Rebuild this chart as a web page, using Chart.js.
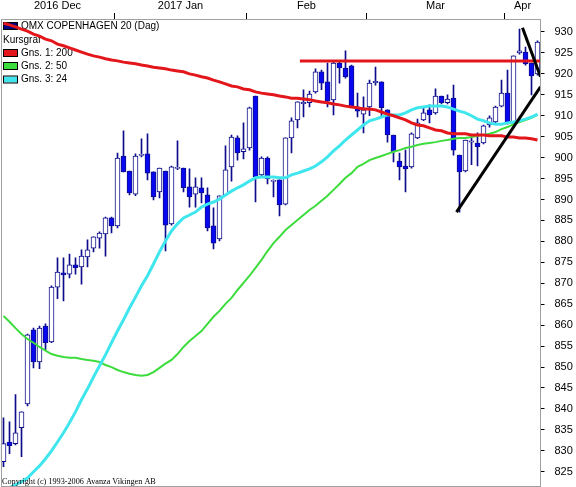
<!DOCTYPE html>
<html lang="sv">
<head>
<meta charset="UTF-8">
<title>OMX Copenhagen 20 (Dag)</title>
<script src="https://cdn.jsdelivr.net/npm/chart.js"></script>
<style>
  html, body { margin: 0; padding: 0; background: #fff; }
  canvas { display: block; }
</style>
</head>
<body>
<canvas id="kurs" width="576" height="487"></canvas>
<script>
// months shown on the top axis and how many trading days each has in view
const months = ['2016 Dec', '2017 Jan', 'Feb', 'Mar', 'Apr'];
const monthDays = [19, 22, 20, 23, 6];

// daily candles
const opens = [827.4, 832.1, 831.7, 835.5, 841.2, 858.9, 851.2, 859.8, 856.0, 869.1,
  872.5, 872.2, 874.4, 873.9, 876.3, 878.4, 880.8, 881.8, 885.6, 883.7,
  900.4, 896.8, 891.3, 900.5, 900.9, 896.6, 891.8, 896.8, 884.2, 897.4,
  897.5, 893.0, 891.3, 892.8, 891.1, 883.7, 880.6, 891.1, 897.8, 904.7,
  901.4, 902.3, 914.7, 895.9, 899.9, 894.3, 894.7, 888.9, 904.7, 909.0,
  912.9, 913.1, 915.7, 920.5, 918.1, 913.8, 922.6, 921.4, 921.9, 912.1,
  910.4, 912.1, 917.9, 918.1, 911.4, 905.4, 899.2, 898.0, 897.8, 904.7,
  909.0, 911.4, 910.7, 914.7, 913.1, 914.2, 900.6, 896.8, 903.7, 903.5,
  903.5, 907.8, 908.5, 912.3, 915.4, 908.3, 925.0, 925.2, 922.6, 920.0];
const highs = [837.9, 836.9, 843.4, 839.3, 857.9, 859.3, 859.8, 860.3, 869.4, 876.1,
  876.1, 877.0, 876.1, 878.0, 880.4, 881.1, 882.3, 885.8, 885.8, 901.1,
  906.4, 896.8, 900.9, 904.5, 905.7, 896.6, 897.5, 896.8, 898.0, 904.0,
  897.5, 897.3, 895.2, 895.2, 892.8, 888.0, 890.9, 902.8, 905.4, 905.2,
  908.3, 912.1, 914.7, 900.2, 900.2, 894.7, 894.7, 904.7, 909.5, 913.3,
  916.2, 915.9, 921.2, 920.9, 922.6, 922.8, 922.8, 925.5, 922.1, 915.4,
  914.5, 918.5, 921.6, 918.1, 911.4, 905.4, 901.1, 901.8, 905.9, 909.2,
  911.9, 912.6, 916.4, 914.7, 915.0, 917.3, 900.6, 904.2, 904.7, 905.9,
  907.8, 910.0, 912.3, 918.5, 920.9, 924.3, 930.7, 926.4, 922.6, 927.9];
const lows = [826.2, 829.3, 831.4, 828.6, 840.7, 849.8, 849.6, 854.1, 855.8, 866.3,
  865.8, 871.3, 872.2, 869.8, 873.9, 877.5, 878.4, 876.5, 882.0, 883.2,
  896.6, 891.1, 890.9, 900.2, 894.7, 889.9, 890.4, 877.7, 883.9, 897.1,
  891.8, 888.2, 888.2, 889.2, 882.5, 878.2, 880.1, 890.9, 894.4, 899.4,
  899.7, 901.8, 889.4, 895.6, 893.7, 890.6, 886.1, 888.7, 901.1, 907.1,
  909.7, 912.1, 915.4, 916.2, 912.1, 910.2, 917.8, 919.0, 911.9, 909.7,
  905.9, 910.0, 917.3, 909.7, 903.7, 899.0, 894.7, 891.8, 897.5, 904.5,
  908.8, 908.3, 910.4, 912.8, 912.8, 900.6, 887.0, 896.6, 898.3, 898.0,
  903.3, 907.3, 908.3, 912.1, 908.0, 908.0, 924.7, 922.1, 915.0, 919.7];
const closes = [831.7, 831.2, 834.3, 839.3, 857.7, 851.2, 859.3, 855.8, 869.1, 872.7,
  872.0, 874.4, 873.7, 876.5, 878.0, 881.1, 882.0, 885.6, 883.7, 899.9,
  896.6, 891.6, 900.4, 900.8, 896.3, 890.6, 897.5, 883.9, 897.8, 897.7,
  892.8, 890.6, 893.0, 891.6, 883.2, 879.6, 890.9, 897.1, 904.9, 901.1,
  902.1, 911.9, 895.4, 899.9, 894.9, 894.6, 888.7, 904.7, 908.8, 913.3,
  913.2, 915.2, 920.5, 917.8, 913.5, 922.6, 921.4, 919.3, 912.1, 911.1,
  911.4, 917.8, 918.2, 911.9, 905.4, 901.4, 897.8, 897.3, 905.7, 908.3,
  910.7, 910.2, 914.7, 913.1, 914.0, 901.8, 896.6, 904.2, 904.0, 902.6,
  907.6, 909.5, 912.1, 915.4, 908.3, 924.3, 925.5, 922.4, 919.5, 927.6];

// moving averages (Gns. 1: 200, Gns. 2: 50, Gns. 3: 24)
const ma200 = [932.1, 931.7, 931.2, 930.7, 930.2, 929.5, 929.0, 928.3, 927.9, 927.1,
  926.7, 926.2, 925.7, 925.2, 924.7, 924.3, 924.0, 923.6, 923.3, 923.1,
  922.8, 922.6, 922.4, 922.1, 921.9, 921.6, 921.4, 921.2, 920.9, 920.7,
  920.5, 920.0, 919.7, 919.3, 919.0, 918.5, 918.1, 917.6, 917.1, 916.9,
  916.4, 916.2, 915.7, 915.4, 915.2, 915.0, 914.7, 914.5, 914.2, 914.2,
  914.0, 913.8, 913.5, 913.3, 913.1, 912.8, 912.6, 912.3, 912.1, 911.9,
  911.6, 911.6, 911.4, 910.9, 910.4, 910.0, 909.5, 909.0, 908.3, 907.8,
  907.6, 907.1, 906.6, 906.4, 905.9, 905.7, 905.7, 905.7, 905.4, 905.4,
  905.4, 905.2, 905.2, 905.2, 904.9, 904.9, 904.7, 904.7, 904.5, 904.2];
const ma50 = [862.2, 860.8, 859.3, 857.9, 856.7, 855.8, 854.8, 853.9, 853.1, 852.7,
  852.4, 852.2, 852.2, 851.9, 851.7, 851.5, 851.2, 850.5, 850.0, 849.3,
  848.8, 848.4, 848.1, 847.9, 848.1, 848.8, 849.8, 850.8, 851.7, 853.1,
  854.8, 856.2, 857.4, 858.6, 860.3, 862.0, 863.4, 865.1, 866.5, 868.4,
  870.1, 871.8, 873.7, 875.6, 877.7, 879.6, 881.1, 882.7, 883.9, 885.1,
  886.3, 887.5, 888.5, 889.7, 890.9, 892.3, 893.7, 895.2, 896.3, 897.8,
  898.5, 899.4, 899.9, 900.4, 900.9, 901.4, 901.8, 902.3, 902.6, 903.0,
  903.3, 903.5, 903.7, 904.0, 904.2, 904.5, 904.7, 904.7, 904.9, 905.2,
  905.4, 905.7, 906.1, 906.8, 907.3, 908.0, 908.5, 909.0, 909.5, 910.2];
const ma24 = [820.7, 821.2, 821.9, 822.6, 823.5, 825.0, 826.4, 828.1, 830.0, 832.1,
  834.3, 836.7, 839.3, 842.2, 844.8, 847.6, 850.3, 852.9, 855.8, 858.6,
  861.3, 864.1, 866.7, 869.4, 871.8, 874.6, 877.5, 880.1, 882.5, 884.2,
  885.6, 886.3, 887.0, 888.2, 888.9, 889.4, 890.1, 891.1, 892.0, 892.8,
  893.5, 894.4, 895.2, 895.4, 895.4, 895.4, 895.2, 895.2, 895.9, 896.3,
  896.8, 897.3, 898.0, 899.0, 900.2, 901.6, 902.8, 904.2, 905.4, 906.6,
  907.8, 908.8, 909.2, 909.7, 910.2, 910.2, 910.2, 910.7, 911.4, 911.9,
  912.1, 912.3, 912.3, 912.3, 912.1, 911.6, 911.1, 910.7, 910.0, 909.2,
  908.8, 908.3, 908.0, 908.0, 908.3, 908.5, 908.8, 909.2, 909.7, 910.4];

// hand drawn lines (x = day index)
const resistance = [{ x: 49.4, y: 923.1 }, { x: 89.5, y: 923.1 }];
const trendUp = [{ x: 75.5, y: 887.0 }, { x: 89.5, y: 916.9 }];
const trendDown = [{ x: 86.5, y: 931.0 }, { x: 89.5, y: 919.3 }];

const days = opens.map((_, i) => i);
const wicks = lows.map((l, i) => [l, highs[i]]);
const bodies = opens.map((o, i) => [o, closes[i]]);
const bodyFill = opens.map((o, i) => closes[i] >= o ? '#ffffff' : '#0808f0');

// month breaks get a tick mark, month middles get the name
const monthBreaks = [];
const monthMids = [];
let start = 0;
monthDays.forEach(n => {
  monthMids.push(start + (n - 1) / 2);
  start += n;
  if (start < opens.length) monthBreaks.push(start - 0.5);
});

Chart.defaults.font.family = '"Liberation Sans", Arial, sans-serif';
Chart.defaults.color = '#000';

const legendRows = [
  { text: 'OMX COPENHAGEN 20 (Dag)', color: '#000080', y: 26 },
  { text: 'Kursgraf', color: null, y: 40 },
  { text: 'Gns. 1: 200', color: '#e3161b', y: 53 },
  { text: 'Gns. 2: 50', color: '#3ddc3d', y: 66 },
  { text: 'Gns. 3: 24', color: '#3fe6ee', y: 79.5 }
];

const legendBox = {
  id: 'legendBox',
  beforeDatasetsDraw(chart) {
    const c = chart.ctx;
    c.save();
    c.font = '10px "Liberation Sans", Arial, sans-serif';
    c.textBaseline = 'middle';
    c.fillStyle = '#000';
    legendRows.forEach(r => {
      if (r.color) {
        c.fillStyle = r.color;
        c.fillRect(3, r.y - 3, 14, 6);
        c.strokeStyle = '#000';
        c.lineWidth = 1;
        c.strokeRect(3.5, r.y - 3.5, 14, 7);
        c.fillStyle = '#000';
        c.fillText(r.text, 21, r.y);
      } else {
        c.fillText(r.text, 3, r.y);
      }
    });
    c.restore();
  },
  afterDraw(chart) {
    const c = chart.ctx;
    const a = chart.chartArea;
    c.save();
    c.strokeStyle = '#a0a0a0';
    c.lineWidth = 1;
    c.strokeRect(1.5, 19.5, 539, 467);
    c.font = '8.2px "Liberation Serif", "Times New Roman", serif';
    c.fillStyle = '#000';
    c.textBaseline = 'alphabetic';
    c.fillText('Copyright (c) 1993-2006 Avanza Vikingen AB', 2, a.bottom - 2);
    c.restore();
  }
};

new Chart(document.getElementById('kurs'), {
  type: 'bar',
  data: {
    labels: days,
    datasets: [
      { label: 'wick', data: wicks, xAxisID: 'x', backgroundColor: '#0c0c8c',
        barThickness: 1, grouped: false, order: 6 },
      { label: 'body', data: bodies, xAxisID: 'x', backgroundColor: bodyFill,
        borderColor: '#0c0c8c', borderWidth: 1, borderSkipped: false,
        barThickness: 5, grouped: false, order: 5 },
      { type: 'line', label: 'Gns. 2: 50', data: ma50, xAxisID: 'x', borderColor: '#3ddc3d',
        borderWidth: 2, pointRadius: 0, order: 4 },
      { type: 'line', label: 'Gns. 3: 24', data: ma24, xAxisID: 'x', borderColor: '#3fe6ee',
        borderWidth: 3, pointRadius: 0, order: 3 },
      { type: 'line', label: 'Gns. 1: 200', data: ma200, xAxisID: 'x', borderColor: '#e3161b',
        borderWidth: 3, pointRadius: 0, order: 2 },
      { type: 'line', label: 'motstånd', data: resistance, xAxisID: 'xt', borderColor: '#e3161b',
        borderWidth: 3, pointRadius: 0, order: 1 },
      { type: 'line', label: 'trend upp', data: trendUp, xAxisID: 'xt', borderColor: '#000',
        borderWidth: 3, pointRadius: 0, order: 0 },
      { type: 'line', label: 'trend ned', data: trendDown, xAxisID: 'xt', borderColor: '#000',
        borderWidth: 3, pointRadius: 0, order: 0 }
    ]
  },
  options: {
    responsive: false,
    animation: false,
    layout: { padding: { left: 0.5, top: 0, right: 0, bottom: 1 } },
    plugins: { legend: { display: false }, tooltip: { enabled: false } },
    scales: {
      x: { display: false },
      xt: {
        type: 'linear',
        position: 'top',
        min: -0.5,
        max: 89.5,
        offset: false,
        afterBuildTicks: s => {
          s.ticks = monthMids.concat(monthBreaks).sort((a, b) => a - b).map(v => ({ value: v }));
        },
        afterFit: s => { s.height = 19; s.paddingLeft = 0; s.paddingRight = 0; },
        ticks: {
          autoSkip: false,
          maxRotation: 0,
          padding: 0,
          font: { size: 11 },
          callback: v => {
            const k = monthMids.indexOf(v);
            return k >= 0 ? months[k] : '';
          }
        },
        grid: {
          offset: false,
          drawOnChartArea: false,
          tickLength: 6,
          color: c => (c.tick && monthBreaks.includes(c.tick.value)) ? '#000' : 'rgba(0,0,0,0)'
        },
        border: { display: false }
      },
      y: {
        position: 'right',
        min: 821.6,
        max: 933.1,
        afterFit: s => { s.width = 35.5; s.paddingTop = 0; s.paddingBottom = 0; },
        ticks: { stepSize: 5, includeBounds: false, padding: 10, font: { size: 11 } },
        grid: { drawOnChartArea: false, tickLength: 4, color: '#000' },
        border: { display: false }
      }
    }
  },
  plugins: [legendBox]
});
</script>
</body>
</html>
